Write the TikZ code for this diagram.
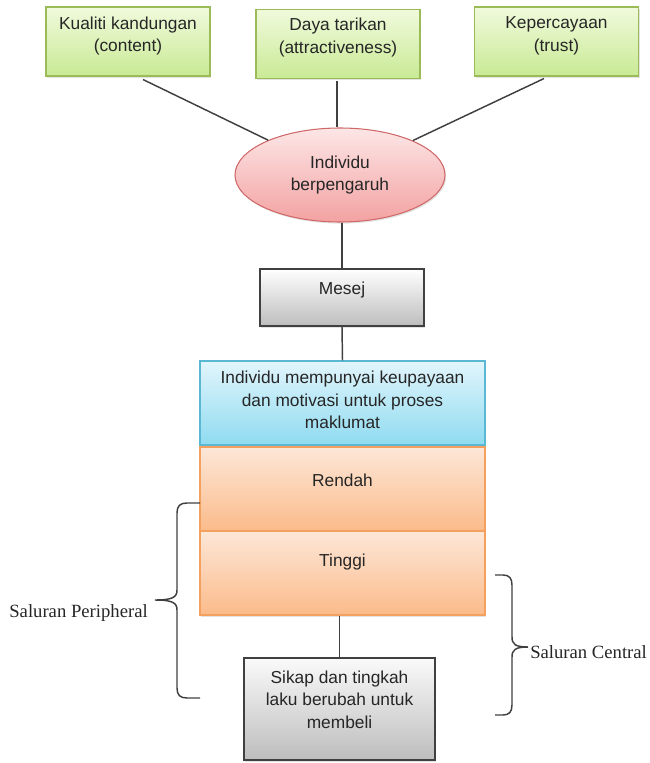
\documentclass[tikz,border=0pt]{standalone}
\usepackage{fontspec}
\setmainfont{Liberation Sans}
\newfontfamily\serifface{Liberation Serif}
\usetikzlibrary{shadows,shapes.geometric}
\definecolor{txt}{HTML}{262626}
\definecolor{ln}{HTML}{404040}
\definecolor{gtop}{HTML}{F0FADC}
\definecolor{gbot}{HTML}{C9EA95}
\definecolor{gdraw}{HTML}{9BBB59}
\definecolor{ptop}{HTML}{FDE6E6}
\definecolor{pbot}{HTML}{F3A2A2}
\definecolor{pdraw}{HTML}{D06A6A}
\definecolor{btop}{HTML}{E2F5FC}
\definecolor{bbot}{HTML}{8FDBF0}
\definecolor{bdraw}{HTML}{5BB8D2}
\definecolor{otop}{HTML}{FDE7D8}
\definecolor{obot}{HTML}{FBBB8A}
\definecolor{odraw}{HTML}{F4A160}
\definecolor{stop}{HTML}{FAFAFA}
\definecolor{sbot}{HTML}{BDBDBD}
\tikzset{
  shad/.style={drop shadow={shadow xshift=0.9pt,shadow yshift=-1.2pt,opacity=0.22}},
  gbox/.style={rectangle,shad,draw=gdraw,line width=0.8pt,top color=gtop,bottom color=gbot,
    minimum width=123pt,minimum height=51.75pt,inner sep=0pt},
  ibox/.style={ellipse,shad,draw=pdraw,line width=0.8pt,top color=ptop,bottom color=pbot,
    minimum width=157.5pt,minimum height=70.5pt,inner sep=0pt,text=txt,align=center,
    font=\fontsize{13}{16}\selectfont},
  mbox/.style={rectangle,shad,draw=ln,line width=1.1pt,top color=white,bottom color=sbot,inner sep=0pt},
  bbox/.style={rectangle,shad,draw=bdraw,line width=0.8pt,top color=btop,bottom color=bbot,
    minimum width=213.75pt,minimum height=63pt,inner sep=0pt},
  obox/.style={rectangle,draw=odraw,line width=0.8pt,top color=otop,bottom color=obot,
    minimum width=213.75pt,minimum height=63pt,inner sep=0pt},
  lbl/.style={text=txt,align=center,font=\fontsize{13}{16.8}\selectfont,inner sep=0pt},
  slbl/.style={text=txt,font=\serifface\fontsize{14}{16}\selectfont,inner sep=0pt},
  conn/.style={draw=ln,line width=1.1pt},
  brc/.style={draw=ln,line width=1.1pt}
}
\begin{document}
\begin{tikzpicture}[x=0.75pt,y=-0.75pt]
\useasboundingbox (0,0) rectangle (649,763);
% top boxes
\node[gbox] (k1) at (128,41.5) {};
\node[gbox] (k2) at (338,44) {};
\node[gbox] (k3) at (556.5,41.5) {};
\node[lbl] (k1t) at ([shift={(0,-5.5)}]k1.center) {Kualiti kandungan\\(content)};
\node[lbl] (k2t) at ([shift={(0,-6.5)}]k2.center) {Daya tarikan\\(attractiveness)};
\node[lbl] (k3t) at ([shift={(0,-5.5)}]k3.center) {Kepercayaan\\(trust)};
% ellipse
\node[ibox] (ind) at (340,175) {Individu\\berpengaruh};
% message
\node[mbox,minimum width=123pt,minimum height=42.75pt] (mesej) at (342,297.5) {};
\node[lbl] (mesejt) at ([shift={(0,-7.5)}]mesej.center) {Mesej};
% blue box
\node[bbox] (blue) at (342.5,403) {};
\node[lbl] (bluet) at ([shift={(0,-3)}]blue.center) {Individu mempunyai keupayaan\\dan motivasi untuk proses\\maklumat};
% orange boxes
\node[obox] (rendah) at (342.5,489) {};
\node[lbl] (rendaht) at ([shift={(0,-9)}]rendah.center) {Rendah};
\node[obox,shad] (tinggi) at (342.5,573) {};
\node[lbl] (tinggit) at ([shift={(0,-11)}]tinggi.center) {Tinggi};
% final box
\node[mbox,top color=stop,minimum width=143.25pt,minimum height=76.5pt] (sikap) at (339.5,709) {};
\node[lbl] (sikapt) at ([shift={(0,-9.5)}]sikap.center) {Sikap dan tingkah\\laku berubah untuk\\membeli};
% connectors
\coordinate (s1) at ([shift={(15,3)}]k1.south);
\coordinate (s3) at ([shift={(-12.5,2)}]k3.south);
\draw[conn] (s1) -- (ind);
\draw[conn] (s3) -- (ind);
\draw[conn] ([shift={(-1,2)}]k2.south) -- ([xshift=-0.75pt]k2.south |- ind.north);
\draw[conn] (mesej.north |- ind.south) -- (mesej.north);
\draw[conn] (mesej.south) -- (blue.north);
\draw[conn] (sikap.north |- tinggi.south) -- (sikap.north);
% braces
\coordinate (lb) at (155,600);
\coordinate (rb) at (528,647);
\draw[brc] (200,503) -- (187,503) .. controls (180,503) and (177,506) .. (177,513)
  -- (177,590) .. controls (177,597) and (173,600) .. (lb)
  .. controls (173,600) and (177,603) .. (177,610)
  -- (177,688) .. controls (177,695) and (180,698) .. (187,698) -- (200,698);
\draw[brc] (495,575) -- (503,575) .. controls (509,575) and (512,578) .. (512,585)
  -- (512,637) .. controls (512,644) and (515,647) .. (rb)
  .. controls (515,647) and (512,650) .. (512,657)
  -- (512,705) .. controls (512,712) and (509,715) .. (503,715) -- (495,715);
\node[slbl,anchor=east] (sp) at (148,613) {Saluran Peripheral};
\node[slbl,anchor=west] (sc) at (530,652) {Saluran Central};
\end{tikzpicture}
\end{document}
